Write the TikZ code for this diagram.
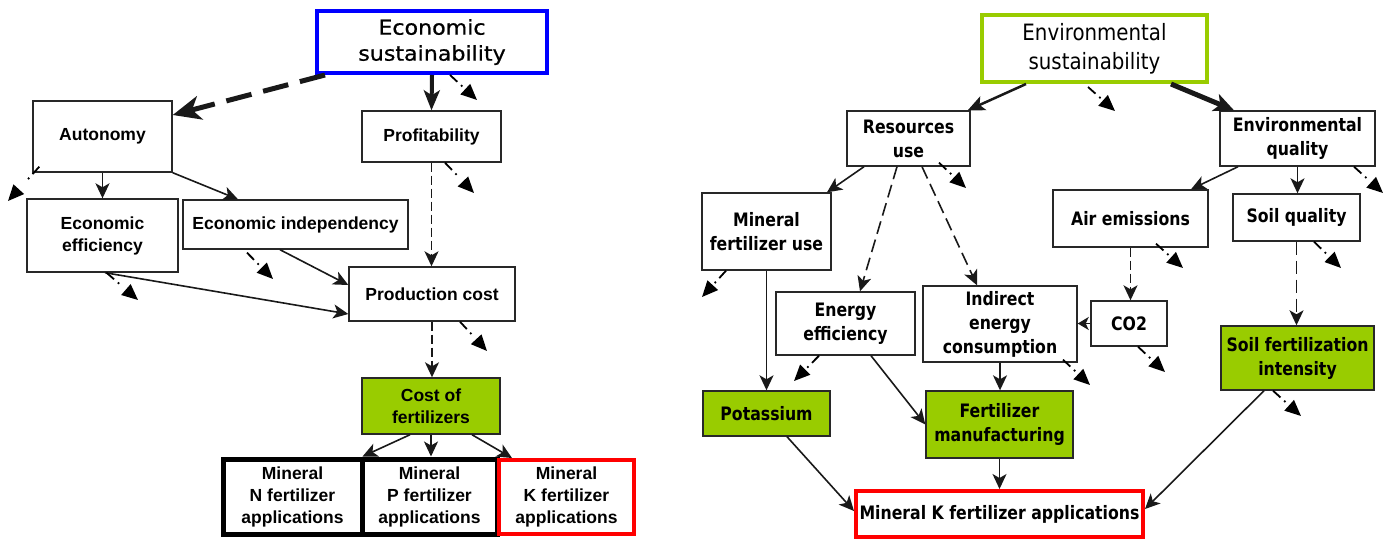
\documentclass[tikz,border=0pt]{standalone}
\usepackage{fontspec}
\usetikzlibrary{arrows.meta}
\newfontfamily\ltitlefont{DejaVu Sans}[FakeStretch=1.08,FakeBold=0.8]
\newfontfamily\lnodefont{Liberation Sans}
\newfontfamily\rtitlefont{DejaVu Sans}[FakeStretch=0.88]
\newfontfamily\rnodefont{DejaVu Sans}[FakeStretch=0.85]
\definecolor{lime}{RGB}{153,204,0}
\definecolor{boxline}{RGB}{40,40,40}
\tikzset{
 lbox/.style={draw=boxline, line width=1.4pt, fill=white, inner sep=0pt, align=center,
   font=\lnodefont\bfseries\fontsize{17.5}{22}\selectfont},
 rbox/.style={draw=boxline, line width=1.4pt, fill=white, inner sep=0pt, align=center,
   font=\rnodefont\bfseries\fontsize{18.5}{24}\selectfont},
 ltitle/.style={lbox, draw=blue, line width=4pt, font=\ltitlefont\fontsize{20.5}{26}\selectfont},
 rtitle/.style={rbox, draw=lime, line width=4pt, font=\rtitlefont\fontsize{22.5}{29}\selectfont},
 greenbox/.style={fill=lime},
 blackthick/.style={draw=black, line width=5pt},
 redthick/.style={draw=red, line width=4pt},
 sz/.style 2 args={minimum width=#1pt, minimum height=#2pt},
 conn/.style={draw=black!90, line width=1.6pt, -{Stealth[length=15pt,width=14pt,inset=4pt]}},
 dconn/.style={conn, dash pattern=on 9pt off 4pt},
 dconnlong/.style={conn, dash pattern=on 13pt off 6pt},
 hint/.style={draw=black, line width=1.8pt, dash pattern=on 10pt off 5pt on 1.8pt off 30pt,
   -{Triangle[length=16pt,width=14pt]}},
}
\begin{document}
\begin{tikzpicture}[x=1pt,y=-1pt]
\useasboundingbox (0,0) rectangle (1388,539);
% ---------------- left: economic ----------------
\node[ltitle, sz={230}{62}] (es) at (432,42) {Economic\\sustainability};
\node[lbox, sz={139}{71}] (aut) at (102.5,136.5) {Autonomy};
\node[lbox, sz={139}{51}] (prof) at (431.5,136.5) {Profitability};
\node[lbox, sz={151}{73}] (eff) at (102.5,235.5) {Economic\\efficiency};
\node[lbox, sz={225}{49}] (ind) at (295.5,224.5) {Economic independency};
\node[lbox, sz={166}{54}] (pc) at (432,294) {Production cost};
\node[lbox, greenbox, sz={138}{56}] (cof) at (431,406) {Cost of\\fertilizers};
\node[lbox, blackthick, sz={139}{75}] (mn) at (292.5,496.5) {Mineral\\N fertilizer\\applications};
\node[lbox, blackthick, sz={135}{75}] (mp) at (429.5,496.5) {Mineral\\P fertilizer\\applications};
\node[lbox, redthick, sz={135}{74}] (mk) at (566.5,497) {Mineral\\K fertilizer\\applications};
% free ends of the hint arrows
\coordinate (h1) at (477,100);
\coordinate (h2) at (8,201);
\coordinate (h3) at (474,193);
\coordinate (h4) at (273,279);
\coordinate (h5) at (138,300);
\coordinate (h6) at (487,351);
% connectors
\draw[conn, line width=5pt, dash pattern=on 26pt off 12pt,
  -{Stealth[length=28pt,width=24pt,inset=8pt]}] ([xshift=10pt]es.south west) -- ([yshift=21.5pt]aut.east);
\draw[conn, line width=4pt, -{Stealth[length=20pt,width=16pt,inset=5pt]}] (es.south) -- (prof.north);
\draw[hint] ([xshift=18pt]es.south) -- (h1);
\draw[conn] (aut.south) -- (eff.north);
\draw[conn] (aut.south east) -- ([xshift=-57.5pt]ind.north);
\draw[hint] ([xshift=7pt,yshift=6pt]aut.south west) -- (h2);
\draw[dconn] (prof.south) -- (prof.south |- pc.north);
\draw[hint] ([xshift=13.5pt]prof.south) -- (h3);
\draw[conn] ([xshift=-15.5pt]ind.south) -- ([yshift=9pt]pc.west);
\draw[hint] ([xshift=-48.5pt,yshift=-3pt]ind.south) -- (h4);
\draw[conn] ([xshift=2.5pt]eff.south) -- ([yshift=-20pt]pc.west);
\draw[hint] ([xshift=4pt]eff.south) -- (h5);
\draw[dconn] (pc.south) -- (pc.south |- cof.north);
\draw[hint] ([xshift=28pt]pc.south) -- (h6);
\draw[conn] ([xshift=-21pt]cof.south) -- ([xshift=-2pt]mn.north east);
\draw[conn] (cof.south) -- (cof.south |- mp.north);
\draw[conn] ([xshift=41pt]cof.south) -- ([xshift=-54.5pt]mk.north);
% ---------------- right: environmental ----------------
\node[rtitle, sz={225}{67}] (envs) at (1094.5,48.5) {Environmental\\sustainability};
\node[rbox, sz={123}{55}] (ru) at (908.5,138.5) {Resources\\use};
\node[rbox, sz={155}{55}] (eq) at (1297.5,138.5) {Environmental\\quality};
\node[rbox, sz={129}{77}] (mfu) at (766.5,231.5) {Mineral\\fertilizer use};
\node[rbox, sz={155}{57}] (ae) at (1130.5,218.5) {Air emissions};
\node[rbox, sz={127}{47}] (sq) at (1296.5,217.5) {Soil quality};
\node[rbox, sz={139}{63}] (ee) at (845.5,323.5) {Energy\\efficiency};
\node[rbox, sz={154}{76}] (iec) at (1000,324) {Indirect\\energy\\consumption};
\node[rbox, sz={76}{45}] (co2) at (1129,323.5) {CO2};
\node[rbox, greenbox, sz={153}{64}] (sfi) at (1297.5,358) {Soil fertilization\\intensity};
\node[rbox, greenbox, sz={127}{45}] (pot) at (766.5,413.5) {Potassium};
\node[rbox, greenbox, sz={147}{67}] (fm) at (999.5,424.5) {Fertilizer\\manufacturing};
\node[rbox, redthick, sz={287}{46}] (mkr) at (999.5,514) {Mineral K fertilizer applications};
% free ends
\coordinate (h7) at (1115,111);
\coordinate (h8) at (966,188);
\coordinate (h9) at (1383,193);
\coordinate (h10) at (1183,268);
\coordinate (h11) at (1341,268);
\coordinate (h12) at (702,297);
\coordinate (h13) at (794,381);
\coordinate (h14) at (1090,385);
\coordinate (h15) at (1165,372);
\coordinate (h16) at (1301,416);
% connectors
\draw[conn, line width=2.5pt, -{Stealth[length=17pt,width=15pt,inset=4pt]}] ([xshift=-68.5pt]envs.south) -- ([xshift=-3pt]ru.north east);
\draw[hint] ([xshift=-6.5pt,yshift=-3pt]envs.south) -- (h7);
\draw[conn, line width=5pt, -{Stealth[length=20pt,width=18pt,inset=5pt]}] ([xshift=76.5pt]envs.south) -- ([xshift=-63.5pt]eq.north);
\draw[conn] ([xshift=-44.5pt]ru.south) -- ([xshift=60.5pt]mfu.north);
\draw[dconnlong] ([xshift=-11.5pt]ru.south) -- ([xshift=14.5pt]ee.north);
\draw[dconnlong] ([xshift=13.5pt]ru.south) -- ([xshift=-23pt]iec.north);
\draw[hint] ([xshift=30.5pt,yshift=4pt]ru.south) -- (h8);
\draw[conn] ([xshift=-59.5pt]eq.south) -- ([xshift=60.5pt]ae.north);
\draw[conn] (eq.south) -- (eq.south |- sq.north);
\draw[hint] ([xshift=56.5pt]eq.south) -- (h9);
\draw[dconn] (ae.south) -- (ae.south |- co2.north);
\draw[hint] ([xshift=25.5pt,yshift=4pt]ae.south) -- (h10);
\draw[dconnlong] (sq.south) -- (sq.south |- sfi.north);
\draw[hint] ([xshift=17.5pt]sq.south) -- (h11);
\draw[conn, -{Stealth[length=11pt,width=13pt,inset=3pt]}] (co2.west) -- (co2.west -| iec.east);
\draw[conn] (mfu.south) -- (mfu.south |- pot.north);
\draw[hint] ([xshift=-40.5pt]mfu.south) -- (h12);
\draw[hint] ([xshift=-26.5pt]ee.south) -- (h13);
\draw[conn] ([xshift=25.5pt]ee.south) -- (fm.west);
\draw[conn] (iec.south) -- (iec.south |- fm.north);
\draw[hint] ([xshift=63pt,yshift=3pt]iec.south) -- (h14);
\draw[hint] ([xshift=9pt]co2.south) -- (h15);
\draw[conn] ([xshift=20.5pt]pot.south) -- ([yshift=3pt]mkr.west);
\draw[conn] (fm.south) -- (mkr.north);
\draw[conn] ([xshift=-33.5pt]sfi.south) -- ([yshift=5pt]mkr.east);
\draw[hint] ([xshift=-24.5pt]sfi.south) -- (h16);
\end{tikzpicture}
\end{document}
